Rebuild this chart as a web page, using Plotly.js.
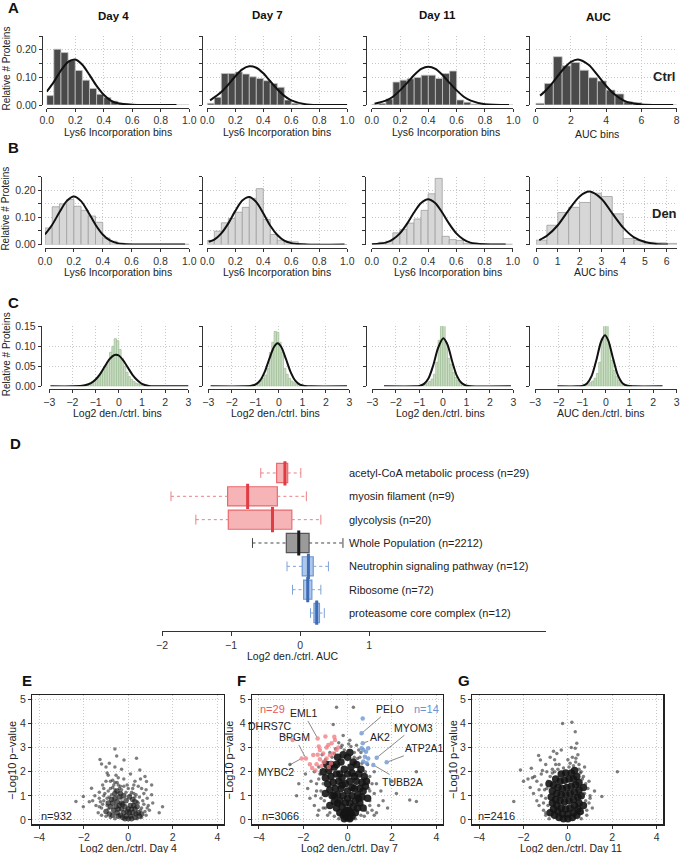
<!DOCTYPE html>
<html>
<head>
<meta charset="utf-8">
<script src="https://cdn.plot.ly/plotly-3.0.1.min.js"></script>
<style>body{margin:0;background:#fff}#fig{width:683px;height:853px}</style>
</head>
<body>
<div id="fig"></div>
<script>
// ---- A / B : Lys6 incorporation histograms (relative # proteins per bin) ----
var lysBins = {start: 0, width: 0.05};
var aucBins = {start: 0, width: 0.5};
var ctrlDay4  = [.034,.202,.190,.163,.125,.090,.060,.039,.027,.014,.006,.003,.002,.001,.001,.001,.001,.001,0,0];
var ctrlDay7  = [.006,.028,.114,.114,.120,.112,.102,.096,.088,.078,.064,.018,.006,.002,.001,.001,0,0,0,0];
var ctrlDay11 = [.002,.006,.022,.083,.090,.095,.100,.108,.108,.096,.114,.123,.018,.010,.003,.002,.001,.001,0,0];
var ctrlAUC   = [.006,.078,.175,.142,.154,.126,.099,.087,.054,.040,.012,.008,.002,.001,0,0];
var denDay4   = [.061,.139,.150,.166,.141,.126,.105,.082,.024,.012,.005,.002,.001,.001,.001,.001,.001,.001,.001,.001];
var denDay7   = [.015,.049,.080,.096,.119,.137,.170,.206,.092,.037,.016,.012,.010,.003,.001,.001,0,0,0,0];
var denDay11  = [.002,.008,.012,.043,.055,.079,.094,.126,.187,.244,.030,.018,.015,.004,.002,.001,.001,.001,.001,.001];
var denAUC    = [.016,.071,.118,.137,.155,.189,.177,.113,.022,.015,.008,.006,.004];

// fitted normal curves as [x, y]
var fitCtrlDay4  = [[0,.048],[.05,.084],[.1,.125],[.15,.156],[.2,.165],[.25,.146],[.3,.109],[.35,.069],[.4,.037],[.45,.016],[.5,.006],[.6,.001],[.7,0],[.91,0]];
var fitCtrlDay7  = [[.02,.017],[.1,.047],[.15,.074],[.2,.104],[.25,.129],[.3,.140],[.35,.135],[.4,.115],[.45,.086],[.5,.057],[.55,.033],[.6,.017],[.7,.003],[.8,0],[1,0]];
var fitCtrlDay11 = [[.02,.005],[.1,.016],[.15,.030],[.2,.053],[.25,.080],[.3,.109],[.35,.131],[.4,.139],[.45,.131],[.5,.109],[.55,.080],[.6,.053],[.65,.030],[.7,.016],[.8,.003],[.97,0]];
var fitCtrlAUC   = [[.25,.034],[.5,.048],[1,.084],[1.5,.125],[2,.156],[2.4,.165],[3,.146],[3.5,.109],[4,.069],[4.5,.037],[5,.016],[5.5,.006],[6,.002],[7,0],[7.8,0]];
var fitDenDay4   = [[0,.037],[.05,.073],[.1,.119],[.15,.160],[.2,.177],[.25,.160],[.3,.119],[.35,.073],[.4,.037],[.45,.015],[.5,.005],[.6,0],[.7,0],[.97,0]];
var fitDenDay7   = [[.01,.010],[.05,.018],[.1,.041],[.15,.078],[.2,.124],[.25,.162],[.3,.175],[.35,.156],[.4,.115],[.45,.069],[.5,.035],[.55,.014],[.6,.005],[.7,0],[.98,0]];
var fitDenDay11  = [[0,.001],[.1,.007],[.15,.019],[.2,.041],[.25,.076],[.3,.118],[.35,.153],[.4,.167],[.45,.153],[.5,.118],[.55,.076],[.6,.041],[.65,.019],[.7,.007],[.8,.001],[.95,0]];
var fitDenAUC    = [[.15,.016],[.5,.032],[1,.071],[1.5,.127],[2,.177],[2.45,.195],[3,.169],[3.5,.115],[4,.062],[4.5,.026],[5,.009],[5.5,.002],[6.05,0]];

// ---- C : log2 den./ctrl. histograms, bins of 0.1 ----
var ratioDay4  = {start: -1.7, width: 0.1, vals: [.002,.003,.004,.006,.008,.011,.015,.020,.027,.035,.042,.048,.062,.085,.100,.119,.114,.092,.070,.050,.035,.024,.017,.012,.008,.006,.004,.003,.002,.001]};
var ratioDay7  = {start: -1.4, width: 0.1, vals: [.001,.002,.003,.005,.007,.010,.014,.020,.028,.045,.085,.110,.137,.135,.110,.085,.045,.030,.020,.013,.009,.006,.004,.003,.002,.001]};
var ratioDay11 = {start: -1.0, width: 0.1, vals: [.002,.003,.005,.008,.012,.018,.030,.060,.115,.150,.162,.110,.070,.055,.035,.022,.014,.009,.006,.004,.003,.002]};
var ratioAUC   = {start: -1.1, width: 0.1, vals: [.002,.003,.004,.006,.009,.013,.020,.032,.060,.120,.160,.167,.105,.065,.040,.025,.015,.010,.006,.004,.003,.002]};
var fitRatioDay4  = [[-2.95,0],[-2,0],[-1.5,.002],[-1.2,.008],[-1,.017],[-.8,.031],[-.6,.050],[-.4,.068],[-.2,.078],[-.12,.079],[0,.077],[.2,.064],[.4,.046],[.6,.028],[.8,.015],[1,.006],[1.3,.001],[1.6,0],[2,0],[3.1,0]];
var fitRatioDay7  = [[-2.9,0],[-1.5,0],[-1.2,.001],[-1,.004],[-.8,.014],[-.6,.036],[-.4,.069],[-.2,.099],[-.05,.1075],[.1,.099],[.3,.069],[.5,.036],[.7,.014],[.9,.004],[1.1,.001],[1.4,0],[2.9,0]];
var fitRatioDay11 = [[-2.5,0],[-1.2,0],[-1,.001],[-.8,.006],[-.6,.021],[-.4,.054],[-.2,.096],[.02,.12],[.2,.104],[.4,.062],[.6,.026],[.8,.008],[1,.0015],[1.2,0],[2.9,0]];
var fitRatioAUC   = [[-2.05,0],[-1.2,0],[-1,.001],[-.8,.007],[-.6,.026],[-.4,.066],[-.2,.112],[-.04,.1275],[.1,.115],[.3,.071],[.5,.029],[.7,.008],[.9,.0014],[1.2,0],[2.4,0]];

// ---- D : boxplots of log2 den./ctrl. AUC ----
var goTerms = ['acetyl-CoA metabolic process (n=29)', 'myosin filament (n=9)', 'glycolysis (n=20)',
               'Whole Population (n=2212)', 'Neutrophin signaling pathway (n=12)', 'Ribosome (n=72)',
               'proteasome core complex (n=12)'];
var goGroup = ['down', 'down', 'down', 'all', 'up', 'up', 'up'];
var boxLow  = [-0.57, -1.87, -1.51, -0.69, -0.19, -0.11, 0.15];
var boxQ1   = [-0.34, -1.05, -1.04, -0.20, 0.03, 0.05, 0.20];
var boxMed  = [-0.22, -0.76, -0.40, -0.02, 0.12, 0.11, 0.24];
var boxQ3   = [-0.18, -0.33, -0.12, 0.13, 0.19, 0.17, 0.28];
var boxHigh = [0.01, 0.09, 0.30, 0.62, 0.41, 0.30, 0.35];

// ---- E/F/G : volcano plots [log2 ratio, -log10 p] ----
var day4Pts = [[-0.60,2.94],[-1.27,2.51],[-0.19,2.49],[0.37,2.56],[-0.52,2.65],[0.52,2.07],[-1.0,2.2],[-1.2,2.32],[-0.6,2.2],[-1.65,1.31],
  [-2.02,0.97],[-2.35,0.76],[-2.02,0.55],[1.05,1.45],[1.05,1.04],[1.54,0.55],[1.39,0.30],[0.75,1.8],[0.82,1.59],[-0.85,2.35],
  [-0.3,2.1],[-0.45,1.75],[-0.9,1.85],[-0.95,1.95],[-0.7,1.65],[-0.5,1.55],[-1.15,1.45],[-1.3,1.15],[-1.5,1.0],[-1.6,0.8],
  [-1.45,0.6],[-1.2,0.5],[-1.75,0.75],[0.1,1.9],[0.3,1.6],[0.45,1.4],[0.6,1.3],[0.7,1.1],[0.85,0.9],[0.9,0.6],
  [0.95,0.4],[1.1,0.7],[0.55,1.7],[-0.2,1.7],[-0.35,1.4],[0.2,1.3],[-1.0,1.6],[-0.8,1.3],[-0.6,1.25],[-1.05,1.1],
  [-0.95,0.9],[-1.1,0.8],[-0.75,1.05],[0.35,1.05],[0.5,0.95],[0.65,0.8],[0.4,0.75],[0.6,0.5],[0.75,0.35],[-1.35,0.3],
  [-0.9,0.45],[-0.05,1.45],[-1.1,1.3],[-0.65,1.45],[-0.4,1.3],[0.15,1.15],[-1.25,0.75],[-0.55,1.85],[0.25,1.45],[0.8,1.25],
  [-1.2,0.2],[-1.0,0.15],[-0.8,0.1],[-0.6,0.05],[0.4,0.05],[0.6,0.1],[0.8,0.2],[-1.3,0.9],[-1.1,1.0],[-0.9,1.2],
  [-0.7,1.35],[-0.3,1.25],[-0.1,1.15],[0.25,1.1],[0.45,0.7],[0.7,0.65],[0.55,0.4],[-0.85,0.95],[-0.95,0.6],[-0.6,1.55],
  [-0.2,1.4],[0.0,1.3],[0.3,0.95],[-1.15,0.65],[-0.45,1.45],[0.1,1.05],[0.85,0.5],[-0.3,0.9],[-0.8,1.6],[-1.3,0.55]];
var day4Core = [[-0.6,0.9],[-0.5,0.75],[-0.4,0.6],[-0.3,0.45],[-0.2,0.3],[-0.1,0.15],[0,0.05],[0.1,0.15],[0.2,0.3],[0.3,0.45],
  [0.4,0.55],[-0.7,0.7],[-0.8,0.55],[-0.65,0.4],[-0.5,0.3],[-0.35,0.2],[-0.25,0.1],[-0.15,0.05],[0.05,0.3],[0.15,0.45],
  [0.25,0.6],[0.35,0.25],[0.45,0.3],[0.5,0.15],[-0.55,0.55],[-0.45,0.45],[-0.3,0.7],[-0.15,0.55],[0,0.45],[0.1,0.6],
  [-0.4,0.95],[-0.6,1.1],[-0.75,0.85],[-0.9,0.7],[-1.0,0.35],[-0.85,0.25],[-0.1,0.8],[0.2,0.85],[0.3,0.75],[-0.2,1.0],
  [-0.5,1.2],[0.05,0.95],[-0.35,1.1],[-0.05,0.35],[-0.25,0.65],[0.15,0.05],[0.3,0.1],[-0.45,0.15],[0.6,0.25],[-0.7,0.2]];
var day7Pts = [[-0.5,4.67],[0.26,4.67],[-0.65,3.96],[3.1,2.0],[2.8,0.83],[3.1,0.76],[-0.2,3.5],[0.1,3.3],[-0.4,3.2],[0.4,3.1],
  [-1.5,2.0],[-1.65,1.6],[-1.9,1.9],[-1.8,1.3],[-2.2,1.5],[-1.4,1.2],[-1.3,1.7],[-1.1,2.4],[-1.2,1.9],[1.3,1.5],
  [1.5,1.2],[1.6,0.8],[1.2,1.1],[1.4,0.6],[1.0,1.8],[0.9,2.3],[0.8,2.0],[1.1,0.4],[1.3,0.3],[-1.5,0.6],
  [-1.7,0.9],[-1.3,0.4],[2.0,1.6],[1.8,0.5],[0.55,2.6],[0.5,2.9],[-0.7,2.6],[-0.9,2.1],[-2.6,2.3],[-2.3,1.0],
  [2.2,1.1],[-0.3,3.0],[0.3,2.8],[-0.15,2.9],[0.15,3.05],[-1.2,0.9],[-1.1,0.5],[1.0,0.6],[0.95,1.3],[-1.4,1.5],
  [-1.0,0.5],[-0.8,0.3],[-0.6,0.15],[0.6,0.2],[0.8,0.4],[1.0,0.8],[-1.2,1.2],[-1.1,1.5],[-1.25,1.9],[-1.0,2.5],
  [-0.8,2.8],[-0.55,2.95],[0.45,2.55],[0.65,2.35],[0.9,1.6],[1.0,1.2],[0.9,0.3],[-1.05,0.8],[-0.9,0.2],[1.1,1.5],
  [0.75,0.15],[-0.4,0.05],[0.35,0.05],[-1.3,2.2],[-1.15,2.7],[0.3,2.6],[0.6,2.8],[-0.25,3.1],[0.05,3.15],[-0.6,2.75],
  [1.2,2.0],[-1.45,1.0],[-1.35,0.2],[1.2,0.2]];
var day7Core = [[-0.05,0.1],[-0.15,0.3],[-0.25,0.55],[-0.35,0.8],[-0.45,1.05],[-0.55,1.3],[-0.65,1.55],[-0.75,1.8],[-0.85,2.05],[-0.95,2.3],
  [-0.6,2.2],[-0.5,1.9],[-0.4,1.6],[-0.3,1.3],[-0.2,1.0],[-0.1,0.7],[-0.05,0.4],[0.05,0.1],[0.15,0.3],[0.25,0.55],
  [0.35,0.8],[0.45,1.05],[0.55,1.3],[0.65,1.55],[0.75,1.8],[0.5,1.9],[0.4,1.6],[0.3,1.3],[0.2,1.0],[0.1,0.7],
  [0.05,0.4],[0,0.9],[0,1.2],[-0.1,1.5],[0.1,1.6],[0,1.9],[-0.15,2.1],[0.15,2.2],[-0.3,2.4],[0.25,2.4],
  [0,2.6],[-0.45,2.6],[0.1,2.8],[-0.2,2.7],[-0.2,0.2],[0.2,0.15],[-0.35,0.3],[0.35,0.3],[-0.5,0.5],[0.45,0.5],
  [-0.6,0.75],[0.55,0.7],[-0.7,1.0],[0.65,0.95],[-0.8,1.25],[0.7,1.2],[-0.9,1.5],[0.8,1.4],[-1.0,1.75],[0.85,1.6],
  [-0.35,1.9],[0.3,1.8],[-0.25,1.75],[0.2,1.95],[-0.6,1.0],[0.5,0.9],[-0.45,0.7],[-0.8,0.6],[0.7,0.5],[-1.0,1.1],
  [0.9,0.9],[-1.1,2.0],[-0.75,2.3],[0.6,2.1],[-0.15,0.05],[0.1,0.05],[-0.25,1.45],[0.2,1.35],[-0.5,2.3],[0.4,2.3]];
var day7Down = [[-2.48,3.31],[-2.07,2.55],[-1.88,2.55],[-1.35,3.38],[-1.3,3.05],[-1.0,3.46],[-0.87,3.11],[-0.72,3.18],[-0.57,3.31],[-1.1,2.76],
  [-0.95,2.55],[-1.25,2.52],[-1.4,2.31],[-1.18,2.24],[-0.8,2.69],[-0.65,2.76],[-0.5,2.9],[-1.55,2.69],[-1.7,2.31],[-1.25,2.9],
  [-0.42,3.0],[-0.95,3.0],[-0.75,2.35],[-1.45,2.05],[-0.85,2.2],[-1.05,2.4],[-1.6,2.15],[-1.35,2.7],[-0.6,3.45]];
var day7Up = [[0.68,4.21],[0.63,3.59],[0.68,3.18],[0.63,2.97],[0.71,2.9],[0.83,2.83],[0.93,2.97],[0.78,2.62],[0.93,2.55],[0.71,2.42],
  [1.31,2.58],[1.76,2.39],[1.16,2.28],[0.86,2.35]];
var day7Genes = ['EML1', 'PELO', 'DHRS7C', 'BPGM', 'MYBC2', 'AK2', 'MYOM3', 'ATP2A1', 'TUBB2A'];
var day7GenePts = [day7Down[3], day7Up[1], day7Down[0], day7Down[2], day7Down[1], day7Up[2], day7Up[10], day7Up[11], day7Up[12]];
var day11Pts = [[-0.24,4.0],[0.18,4.05],[0.33,3.66],[0.4,3.18],[0.33,2.97],[0.36,2.56],[-1.32,2.67],[-1.24,2.49],[-2.14,2.07],[-1.65,2.14],
  [2.23,2.0],[1.53,0.97],[-2.44,0.76],[-1.5,1.8],[-1.4,1.6],[-1.6,1.75],[-1.7,1.35],[-1.2,1.9],[-1.0,2.3],[-0.8,2.6],
  [-0.6,2.5],[-0.5,2.75],[-0.3,2.9],[0.15,3.0],[0.5,2.3],[0.6,2.0],[0.7,1.8],[0.8,1.5],[0.9,1.3],[1.0,1.0],
  [0.95,0.7],[1.1,0.5],[0.85,0.4],[-1.2,1.0],[-1.4,0.8],[-1.3,0.6],[-1.1,0.4],[-1.55,1.1],[-1.0,0.3],[-0.9,1.6],
  [-1.05,1.25],[-0.7,2.1],[-0.95,2.0],[-0.4,2.3],[0.0,2.5],[0.2,2.6],[-1.8,1.7],[-2.0,1.6],[0.45,2.7],[1.2,1.2],
  [-0.65,2.85],[-1.15,2.05],[0.75,2.2],[0.65,0.3],[-1.0,0.2],[-0.9,0.6],[-1.0,0.9],[-0.95,1.3],[-0.8,1.8],[-0.6,2.0],
  [-0.45,2.1],[-0.2,2.15],[0.05,2.2],[0.25,2.25],[0.5,2.1],[0.65,1.7],[0.75,1.1],[0.8,0.8],[0.85,0.2],[-0.85,0.05],
  [0.6,0.05],[-1.2,1.45],[-1.3,1.25],[0.95,1.6],[-0.7,1.95],[0.55,1.95],[-1.1,0.7],[1.0,0.9],[-0.55,2.3],[0.1,2.35],[0.35,2.4]];
var day11Core = [[-0.6,0.2],[-0.4,0.1],[-0.2,0.05],[0,0.05],[0.2,0.1],[0.4,0.2],[0.55,0.35],[-0.65,0.45],[-0.45,0.35],[-0.25,0.25],
  [0,0.25],[0.25,0.3],[0.45,0.45],[-0.7,0.7],[-0.5,0.6],[-0.3,0.5],[-0.1,0.45],[0.1,0.5],[0.3,0.6],[0.5,0.7],
  [-0.75,0.95],[-0.55,0.85],[-0.35,0.8],[-0.15,0.75],[0.05,0.8],[0.25,0.85],[0.45,0.95],[0.6,1.0],[-0.7,1.2],[-0.5,1.1],
  [-0.3,1.05],[-0.1,1.05],[0.1,1.1],[0.3,1.15],[0.5,1.25],[-0.65,1.45],[-0.45,1.35],[-0.25,1.3],[-0.05,1.35],[0.15,1.4],
  [0.35,1.45],[0.5,1.55],[-0.55,1.7],[-0.35,1.6],[-0.15,1.65],[0.05,1.7],[0.25,1.7],[0.4,1.8],[-0.3,1.9],[-0.1,1.95],
  [0.15,1.95],[0.3,2.05],[-0.8,0.3],[0.7,0.6],[-0.85,1.5],[0.7,1.35]];

// ---------------------------------------------------------------------------
var W = 683, H = 853;
var FONT = 'Liberation Sans, Arial, sans-serif';
function fx(p) { return p / W; }
function fy(p) { return 1 - p / H; }
function xs(pts) { return pts.map(function (p) { return p[0]; }); }
function ys(pts) { return pts.map(function (p) { return p[1]; }); }
function key(c, i) { return c + (i === 1 ? '' : i); }

var data = [];
var layout = {
  width: W, height: H, margin: {l: 0, r: 0, t: 0, b: 0},
  showlegend: false, paper_bgcolor: '#fff', plot_bgcolor: 'rgba(0,0,0,0)',
  font: {family: FONT, size: 10.5, color: '#333'},
  annotations: []
};
function note(text, px, py, opt) {
  var a = {text: text, x: fx(px), y: fy(py), xref: 'paper', yref: 'paper',
           showarrow: false, xanchor: 'center', yanchor: 'middle',
           font: {family: FONT, size: 10.5, color: '#222'}};
  for (var k in opt) a[k] = opt[k];
  layout.annotations.push(a);
}
var GRID = '#c8c8c8', GDASH = '1px,2px';
var n = 0;

// histogram panels
var rows = [
  {top: 36, bottom: 105, line: 107.5, yr: [0, 0.25], tv: [0, .05, .1, .15, .2, .25], tt: ['0.00', '', '0.10', '', '0.20', ''],
   fill: '#4a4a4a', edge: '#c4c4c4', titleY: 132,
   cols: [
     {x0: 46.7, x1: 189.3, ax: 41.7, xr: [0, 1], bins: lysBins, vals: ctrlDay4, fit: fitCtrlDay4, title: 'Lys6 Incorporation bins', tx: 118},
     {x0: 207.3, x1: 347.3, ax: 202, xr: [0, 1], bins: lysBins, vals: ctrlDay7, fit: fitCtrlDay7, title: 'Lys6 Incorporation bins', tx: 277},
     {x0: 371.7, x1: 513.3, ax: 365.7, xr: [0, 1], bins: lysBins, vals: ctrlDay11, fit: fitCtrlDay11, title: 'Lys6 Incorporation bins', tx: 446},
     {x0: 535.7, x1: 676.7, ax: 529, xr: [0, 8], bins: aucBins, vals: ctrlAUC, fit: fitCtrlAUC, title: 'AUC bins', tx: 597, ty: 134}
   ]},
  {top: 176.7, bottom: 244.5, line: 248, yr: [0, 0.25], tv: [0, .05, .1, .15, .2, .25], tt: ['0.00', '', '0.10', '', '0.20', ''],
   fill: '#d7d7d7', edge: '#a0a0a0', titleY: 272,
   cols: [
     {x0: 45, x1: 189.3, ax: 40.7, xr: [0, 1], bins: lysBins, vals: denDay4, fit: fitDenDay4, title: 'Lys6 Incorporation bins', tx: 118},
     {x0: 207.3, x1: 347.3, ax: 201.7, xr: [0, 1], bins: lysBins, vals: denDay7, fit: fitDenDay7, title: 'Lys6 Incorporation bins', tx: 277},
     {x0: 371.7, x1: 512.7, ax: 365, xr: [0, 1], bins: lysBins, vals: denDay11, fit: fitDenDay11, title: 'Lys6 Incorporation bins', tx: 448},
     {x0: 536, x1: 677, ax: 529, xr: [0, 6.47], bins: aucBins, vals: denAUC, fit: fitDenAUC, title: 'AUC bins', tx: 596}
   ]},
  {top: 326.3, bottom: 386.3, line: 389.3, yr: [0, 0.15], tv: [0, .05, .1, .15], tt: ['0.00', '0.05', '0.10', '0.15'],
   fill: '#cadec3', edge: '#a2c09a', titleY: 413,
   cols: [
     {x0: 49.3, x1: 188.3, ax: 40.7, xr: [-3, 3], bins: ratioDay4, vals: ratioDay4.vals, fit: fitRatioDay4, title: 'Log2 den./ctrl. bins', tx: 117},
     {x0: 208.3, x1: 349.3, ax: 201.7, xr: [-3, 3], bins: ratioDay7, vals: ratioDay7.vals, fit: fitRatioDay7, title: 'Log2 den./ctrl. bins', tx: 275},
     {x0: 372.3, x1: 513.3, ax: 365.7, xr: [-3, 3], bins: ratioDay11, vals: ratioDay11.vals, fit: fitRatioDay11, title: 'Log2 den./ctrl. bins', tx: 440},
     {x0: 535, x1: 676.7, ax: 529, xr: [-3, 3], bins: ratioAUC, vals: ratioAUC.vals, fit: fitRatioAUC, title: 'AUC den./ctrl. bins', tx: 601}
   ]}
];

function xticks(r) {
  if (r[0] === -3) return {v: [-3, -2, -1, 0, 1, 2, 3], t: ['\u22123', '\u22122', '\u22121', '0', '1', '2', '3']};
  if (r[1] === 8) return {v: [0, 2, 4, 6, 8], t: ['0', '2', '4', '6', '8']};
  if (r[1] > 6) return {v: [0, 1, 2, 3, 4, 5, 6], t: ['0', '1', '2', '3', '4', '5', '6']};
  return {v: [0, .2, .4, .6, .8, 1], t: ['0.0', '0.2', '0.4', '0.6', '0.8', '1.0']};
}

rows.forEach(function (row) {
  row.cols.forEach(function (c, ci) {
    n += 1;
    var xa = key('x', n), ya = key('y', n);
    var centers = c.vals.map(function (v, i) { return c.bins.start + c.bins.width * (i + 0.5); });
    data.push({type: 'bar', x: centers, y: c.vals, width: c.bins.width, xaxis: xa, yaxis: ya,
      marker: {color: row.fill, line: {color: row.edge, width: 0.8}}, hoverinfo: 'skip'});
    data.push({type: 'scatter', mode: 'lines', x: xs(c.fit), y: ys(c.fit), xaxis: xa, yaxis: ya,
      line: {color: '#111', width: 2, shape: 'spline', smoothing: 0.8}, hoverinfo: 'skip'});
    var t = xticks(c.xr);
    layout[key('xaxis', n)] = {
      domain: [fx(c.x0), fx(c.x1)], range: c.xr, anchor: 'free', position: fy(row.line),
      showline: true, linecolor: '#333', linewidth: 1, ticks: 'outside', ticklen: 3, tickcolor: '#333',
      tickvals: t.v, ticktext: t.t, showgrid: true, gridcolor: GRID, griddash: GDASH, gridwidth: 1,
      zeroline: false, tickfont: {size: 10.5, color: '#333'}
    };
    layout[key('yaxis', n)] = {
      domain: [fy(row.bottom), fy(row.top)], range: row.yr, anchor: 'free', position: fx(c.ax),
      showline: true, linecolor: '#333', linewidth: 1, ticks: 'outside', ticklen: 3, tickcolor: '#333',
      tickvals: row.tv, ticktext: ci === 0 ? row.tt : row.tv.map(function () { return ''; }),
      showgrid: true, gridcolor: GRID, griddash: GDASH, gridwidth: 1, zeroline: false,
      tickfont: {size: 10.5, color: '#333'}
    };
    note(c.title, c.tx, c.ty || row.titleY, {font: {family: FONT, size: 10.5, color: '#222'}});
  });
  note('Relative # Proteins', 6, (row.top + row.bottom) / 2 - 2, {textangle: -90, font: {family: FONT, size: 10, color: '#222'}});
});

// column / row titles
var bold = {family: FONT, size: 11.5, color: '#111'};
note('<b>Day 4</b>', 113, 16, {font: bold});
note('<b>Day 7</b>', 267, 15, {font: bold});
note('<b>Day 11</b>', 437, 15, {font: bold});
note('<b>AUC</b>', 598, 17, {font: bold});
note('<b>Ctrl</b>', 664, 76, {font: {family: FONT, size: 13, color: '#222'}});
note('<b>Den</b>', 664, 213, {font: {family: FONT, size: 13, color: '#222'}});

// ---- D : box plots ----
n += 1;
var dX = key('x', n), dY = key('y', n);
var groupStyle = {
  down: {fill: 'rgba(240,130,134,0.6)', line: '#e86a6f', med: '#e03c43', whisk: '#e98084'},
  all:  {fill: 'rgba(120,120,120,0.75)', line: '#555', med: '#1a1a1a', whisk: '#444'},
  up:   {fill: 'rgba(140,175,225,0.7)', line: '#6d98d4', med: '#3d6bb5', whisk: '#7fa3d8'}
};
goTerms.forEach(function (term, i) {
  var pos = goTerms.length - i;
  var s = groupStyle[goGroup[i]];
  data.push({type: 'box', orientation: 'h', y: [pos], q1: [boxQ1[i]], median: [boxMed[i]], q3: [boxQ3[i]],
    lowerfence: [boxQ1[i]], upperfence: [boxQ3[i]], width: 0.82, whiskerwidth: 0, boxpoints: false,
    fillcolor: s.fill, line: {color: s.line, width: 1.2}, xaxis: dX, yaxis: dY, hoverinfo: 'skip'});
  data.push({type: 'scatter', mode: 'lines', x: [boxLow[i], boxQ1[i], null, boxQ3[i], boxHigh[i]], y: [pos, pos, null, pos, pos],
    line: {color: s.whisk, width: 1, dash: '3px,3px'}, xaxis: dX, yaxis: dY, hoverinfo: 'skip'});
  data.push({type: 'scatter', mode: 'markers', x: [boxLow[i], boxHigh[i]], y: [pos, pos],
    marker: {symbol: 'line-ns-open', size: 7, color: s.whisk, line: {color: s.whisk, width: 1}}, xaxis: dX, yaxis: dY, hoverinfo: 'skip'});
  data.push({type: 'scatter', mode: 'markers', x: [boxMed[i]], y: [pos],
    marker: {symbol: 'line-ns-open', size: 18, color: s.med, line: {color: s.med, width: 3}}, xaxis: dX, yaxis: dY, hoverinfo: 'skip'});
  note(term, 347, 473 + i * 23.33, {xanchor: 'left', font: {family: FONT, size: 11, color: '#222'}});
});
layout[key('xaxis', n)] = {
  domain: [fx(162), fx(546)], range: [-2, 3.56], anchor: 'free', position: fy(631),
  showline: true, linecolor: '#333', linewidth: 1, ticks: 'outside', ticklen: 4, tickcolor: '#333',
  tickvals: [-2, -1, 0, 1], ticktext: ['\u22122', '\u22121', '0', '1'], showgrid: false, zeroline: false,
  tickfont: {size: 10.5, color: '#333'}
};
layout[key('yaxis', n)] = {domain: [fy(624.7), fy(461.3)], range: [0.5, 7.5], visible: false};
note('Log2 den./ctrl. AUC', 292, 656);

// ---- E / F / G : volcano plots ----
var volcanoes = [
  {x0: 32.3, x1: 224, pts: day4Pts, core: day4Core, coreSize: 5.5, coreCol: 'rgba(30,30,30,0.7)', n: 'n=932', nx: 56, title: 'Log2 den./ctrl. Day 4', tx: 128, yl: 11.7},
  {x0: 252, x1: 443, pts: day7Pts, core: day7Core, coreSize: 7.5, coreCol: 'rgba(20,20,20,0.9)', n: 'n=3066', nx: 280, title: 'Log2 den./ctrl. Day 7', tx: 349, yl: 228.5},
  {x0: 472.3, x1: 663.3, pts: day11Pts, core: day11Core, coreSize: 7.5, coreCol: 'rgba(20,20,20,0.9)', n: 'n=2416', nx: 496, title: 'Log2 den./ctrl. Day 11', tx: 571, yl: 453}
];
volcanoes.forEach(function (v, vi) {
  n += 1;
  var xa = key('x', n), ya = key('y', n);
  data.push({type: 'scatter', mode: 'markers', x: xs(v.core), y: ys(v.core), xaxis: xa, yaxis: ya,
    marker: {size: v.coreSize, color: v.coreCol}, hoverinfo: 'skip'});
  data.push({type: 'scatter', mode: 'markers', x: xs(v.pts), y: ys(v.pts), xaxis: xa, yaxis: ya,
    marker: {size: 3.5, color: 'rgba(40,40,40,0.6)'}, hoverinfo: 'skip'});
  if (vi === 1) {
    data.push({type: 'scatter', mode: 'markers', x: xs(day7Down), y: ys(day7Down), xaxis: xa, yaxis: ya,
      marker: {size: 4.5, color: 'rgba(240,120,125,0.75)'}, hoverinfo: 'skip'});
    data.push({type: 'scatter', mode: 'markers', x: xs(day7Up), y: ys(day7Up), xaxis: xa, yaxis: ya,
      marker: {size: 4.5, color: 'rgba(110,150,210,0.8)'}, hoverinfo: 'skip'});
    var offs = [[-14, -25], [28, -24], [-23, -14], [-11, -21], [-26, 14], [17, -6], [37, -30], [37, -14], [29, 17]];
    day7Genes.forEach(function (g, gi) {
      layout.annotations.push({text: g, x: day7GenePts[gi][0], y: day7GenePts[gi][1], xref: xa, yref: ya,
        ax: offs[gi][0], ay: offs[gi][1], showarrow: true, arrowhead: 0, arrowwidth: 0.7, arrowcolor: '#555',
        standoff: 2, font: {family: FONT, size: 10.5, color: '#222'}});
    });
    note('n=29', 272, 709, {font: {family: FONT, size: 11, color: '#e8585c'}});
    note('n=14', 426, 709, {font: {family: FONT, size: 11, color: '#6b93cf'}});
  }
  layout[key('xaxis', n)] = {
    domain: [fx(v.x0), fx(v.x1)], range: [-4.31, 4.3], anchor: ya,
    showline: true, mirror: true, linecolor: '#222', linewidth: 1.3, ticks: 'outside', ticklen: 3, tickcolor: '#333',
    tickvals: [-4, -2, 0, 2, 4], ticktext: ['\u22124', '\u22122', '0', '2', '4'],
    showgrid: true, gridcolor: GRID, griddash: GDASH, zeroline: false, tickfont: {size: 10.5, color: '#333'}
  };
  layout[key('yaxis', n)] = {
    domain: [fy(824.3), fy(695)], range: [-0.18, 5.18], anchor: xa,
    showline: true, mirror: true, linecolor: '#222', linewidth: 1.3, ticks: 'outside', ticklen: 3, tickcolor: '#333',
    tickvals: [0, 1, 2, 3, 4, 5], showgrid: true, gridcolor: GRID, griddash: GDASH, zeroline: false,
    tickfont: {size: 10.5, color: '#333'}
  };
  note(v.n, v.nx, 816, {font: {family: FONT, size: 11, color: '#222'}});
  note(v.title, v.tx, 848, {font: {family: FONT, size: 10.5, color: '#222'}});
  note('\u2212Log10 p\u2212value', v.yl, 760, {textangle: -90, font: {family: FONT, size: 11, color: '#222'}});
});

// panel letters
var letter = {family: FONT, size: 15, color: '#111'};
[['A', 13, 8], ['B', 13, 148], ['C', 13, 302], ['D', 15, 443], ['E', 27, 680], ['F', 241, 680], ['G', 464, 680]].forEach(function (l) {
  note('<b>' + l[0] + '</b>', l[1], l[2], {font: letter});
});

Plotly.newPlot('fig', data, layout, {displayModeBar: false, staticPlot: true});
</script>
</body>
</html>
